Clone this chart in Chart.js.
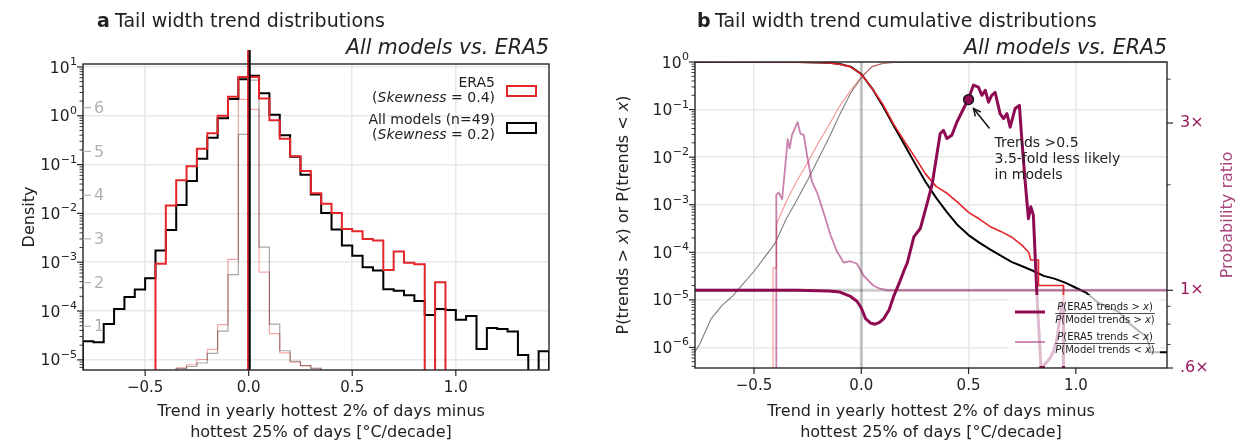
<!DOCTYPE html>
<html>
<head>
<meta charset="utf-8">
<script src="https://cdn.jsdelivr.net/npm/chart.js@4"></script>
<style>
  html, body { margin: 0; padding: 0; background: #fff; }
  #wrap { position: relative; width: 1239px; height: 443px; }
  canvas { position: absolute; top: 0; }
  #panelA { left: 0; }
  #panelB { left: 600px; }
</style>
</head>
<body>
<div id="wrap">
  <canvas id="panelA" width="600" height="443"></canvas>
  <canvas id="panelB" width="639" height="443"></canvas>
</div>
<script>
// ---------- panel a: trend histograms (bin left edges, width 0.05) ----------
const BIN = 0.05;
const binLefts = [-0.8, -0.75, -0.7, -0.65, -0.6, -0.55, -0.5, -0.45, -0.4, -0.35, -0.3, -0.25, -0.2, -0.15, -0.1, -0.05,
  0, 0.05, 0.1, 0.15, 0.2, 0.25, 0.3, 0.35, 0.4, 0.45, 0.5, 0.55, 0.6, 0.65, 0.7, 0.75, 0.8, 0.85, 0.9, 0.95,
  1.0, 1.05, 1.1, 1.15, 1.2, 1.25, 1.3, 1.35, 1.4];
const era5Density = [null, null, null, null, null, null, null, 9.3e-4, 0.0145, 0.048, 0.093, 0.21, 0.44, 1.0, 2.45, 6.2,
  6.2, 2.25, 0.81, 0.34, 0.148, 0.074, 0.026, 0.0158, 0.0102, 0.0048, 0.0043, 0.0030, 0.0028, 6.9e-4, 0.00166, 9.8e-4,
  9.1e-4, null, 3.9e-4, null, null, null, null, null, null, null, null, null, null];
const modelDensity = [2.4e-5, 2.3e-5, 5.4e-5, 1.1e-4, 1.95e-4, 2.75e-4, 4.7e-4, 1.74e-3, 4.6e-3, 0.0148, 0.046, 0.132, 0.355, 0.89, 2.2, 5.6,
  6.6, 2.9, 1.05, 0.40, 0.145, 0.062, 0.0245, 0.0102, 0.0047, 0.0022, 0.00135, 7.9e-4, 6.8e-4, 2.8e-4, 2.6e-4, 2.1e-4,
  1.6e-4, 8.3e-5, 1.1e-4, 1.05e-4, 6.6e-5, 7.9e-5, 1.66e-5, 4.5e-5, 4.3e-5, 3.8e-5, 1.26e-5, null, 1.5e-5];
// faint narrow histograms, read on the inner linear axis (1..6)
const era5Narrow = [null, null, null, null, null, null, null, null, null, 0.05, 0.12, 0.24, 0.47, 1.04, 2.53, 6.19,
  5.96, 2.24, 0.83, 0.39, 0.18, 0.10, 0.04, null, null, null, null, null, null, null, null, null,
  null, null, null, null, null, null, null, null, null, null, null, null, null];
const modelNarrow = [null, null, null, null, null, null, null, null, null, 0.03, 0.08, 0.16, 0.38, 0.89, 2.18, 5.39,
  6.63, 2.81, 1.05, 0.44, 0.20, 0.10, 0.04, null, null, null, null, null, null, null, null, null,
  null, null, null, null, null, null, null, null, null, null, null, null, null];
const narrowTicks = [1, 2, 3, 4, 5, 6];
const era5Mean = -0.003;
const modelMean = 0.005;
const xTicks = [-0.5, 0, 0.5, 1.0];

// ---------- panel b: exceedance / cumulative probabilities and their ratios ----------
const exceedX = [-0.775, -0.3, -0.2, -0.15, -0.1, -0.05, 0, 0.05, 0.1, 0.15, 0.2, 0.25, 0.3, 0.35, 0.4, 0.45, 0.5,
  0.55, 0.6, 0.65, 0.7, 0.75, 0.8, 0.85, 0.9, 0.95, 1.0, 1.05, 1.1, 1.15, 1.2, 1.25, 1.3, 1.33, 1.35, 1.425];
const modelExceed = [1.0, 0.995, 0.98, 0.96, 0.91, 0.8, 0.56, 0.28, 0.12, 0.047, 0.0186, 0.0074, 0.003, 0.00138, 6.9e-4,
  3.7e-4, 2.3e-4, 1.6e-4, 1.15e-4, 8.5e-5, 6.3e-5, 5.1e-5, 4.1e-5, 3.2e-5, 2.8e-5, 2.3e-5, 1.8e-5, 1.4e-5, 9e-6, 7e-6,
  5.6e-6, 3.2e-6, 2.1e-6, 1.7e-6, 7.9e-7, 7.9e-7];
const era5ExceedX = [-0.775, -0.3, -0.2, -0.15, -0.1, -0.05, 0, 0.05, 0.1, 0.15, 0.2, 0.25, 0.3, 0.35, 0.4, 0.45, 0.5,
  0.55, 0.6, 0.65, 0.7, 0.75, 0.78, 0.79, 0.825, 0.826, 0.942, 0.943];
const era5Exceed = [1.0, 0.995, 0.98, 0.955, 0.9, 0.79, 0.55, 0.28, 0.13, 0.05, 0.022, 0.01, 0.0044, 0.0024, 0.00174,
  0.00112, 6.9e-4, 5e-4, 3.5e-4, 2.75e-4, 2.1e-4, 1.4e-4, 1e-4, 6.9e-5, 6.9e-5, 2e-5, 2e-5, 0];
const belowX = [-0.775, -0.75, -0.7, -0.65, -0.6, -0.55, -0.5, -0.45, -0.4, -0.35, -0.3, -0.25, -0.2, -0.15, -0.1,
  -0.05, 0, 0.05, 0.1, 0.15, 0.2, 1.425];
const modelBelow = [8e-7, 1.26e-6, 4e-6, 7.6e-6, 1.2e-5, 2.2e-5, 4e-5, 7.9e-5, 1.6e-4, 5e-4, 1.26e-3, 3.3e-3, 9.3e-3,
  0.026, 0.079, 0.22, 0.47, 0.8, 0.93, 0.98, 0.995, 1.0];
const era5BelowX = [-0.411, -0.411, -0.395, -0.395, -0.35, -0.3, -0.25, -0.2, -0.15, -0.1, -0.05, 0, 0.05, 0.1, 0.15,
  0.2, 1.425];
const era5Below = [0, 4.7e-5, 4.7e-5, 4e-4, 1.15e-3, 3.2e-3, 7.6e-3, 0.02, 0.048, 0.12, 0.25, 0.48, 0.8, 0.94, 0.985,
  0.997, 1.0];
const ratioAboveX = [-0.775, -0.3, -0.15, -0.1, -0.05, -0.02, 0, 0.02, 0.045, 0.065, 0.085, 0.105, 0.13, 0.15, 0.18,
  0.2, 0.215, 0.245, 0.275, 0.29, 0.31, 0.33, 0.352, 0.368, 0.383, 0.399, 0.422, 0.446, 0.477, 0.5, 0.523, 0.546,
  0.562, 0.578, 0.593, 0.608, 0.624, 0.647, 0.663, 0.679, 0.694, 0.717, 0.737, 0.748, 0.764, 0.779, 0.79, 0.802,
  0.818, 0.841, 0.85, 0.88, 0.896, 0.911, 0.927, 0.935, 0.942, 0.943];
const ratioAbove = [1.0, 1.0, 0.995, 0.988, 0.96, 0.93, 0.89, 0.83, 0.805, 0.80, 0.81, 0.83, 0.88, 0.957, 1.06, 1.14,
  1.2, 1.42, 1.5, 1.62, 1.8, 2.0, 2.43, 2.8, 2.86, 2.71, 2.77, 3.02, 3.3, 3.52, 3.85, 3.8, 3.6, 3.72, 3.44, 3.6, 3.67,
  3.19, 3.09, 3.19, 2.92, 3.3, 3.37, 2.71, 2.04, 1.6, 1.73, 1.64, 0.99, 0.55, 0.61, 0.64, 0.67, 0.72, 0.84, 0.92,
  0.92, 0];
const ratioBelowX = [-0.397, -0.396, -0.385, -0.375, -0.369, -0.354, -0.343, -0.334, -0.323, -0.307, -0.297, -0.284,
  -0.268, -0.253, -0.23, -0.206, -0.176, -0.144, -0.113, -0.082, -0.051, -0.02, 0.011, 0.057, 0.088, 0.12, 1.425];
const ratioBelow = [0, 1.87, 1.9, 1.85, 1.82, 2.27, 2.7, 2.54, 2.77, 2.92, 3.02, 2.8, 2.77, 2.43, 2.04, 1.9, 1.67,
  1.44, 1.29, 1.2, 1.21, 1.19, 1.1, 1.03, 1.01, 1.0, 1.0];
const markerX = 0.5;
const markerRatio = 3.5;
const ratioLabelVals = [0.6, 1, 3];
const ratioLabelText = ['.6×', '1×', '3×'];

// ---------- styling ----------
const FONT = '"DejaVu Sans", sans-serif';
const INK = '#222';
const RED = '#e4262b';
const MAROON = '#8e0b52';
const MAUVE = 'rgba(165, 45, 115, 0.6)';
const GRID = '#e8e8e8';

function fontStr(size, style) {
  return (style ? style + ' ' : '') + size + 'px ' + FONT;
}

// draw a run of text pieces with different styles on one baseline
function rich(ctx, parts, x, y, size, align, color) {
  ctx.textBaseline = 'alphabetic';
  ctx.textAlign = 'left';
  ctx.fillStyle = color || INK;
  const ws = parts.map(([s, st]) => { ctx.font = fontStr(size, st); return ctx.measureText(s).width; });
  const total = ws.reduce((a, b) => a + b, 0);
  let cx = align === 'center' ? x - total / 2 : align === 'right' ? x - total : x;
  parts.forEach(([s, st], i) => { ctx.font = fontStr(size, st); ctx.fillText(s, cx, y); cx += ws[i]; });
  return total;
}

function rotatedLabel(ctx, parts, cx, cy, size, color) {
  ctx.save();
  ctx.translate(cx, cy);
  ctx.rotate(-Math.PI / 2);
  rich(ctx, parts, 0, size * 0.36, size, 'center', color);
  ctx.restore();
}

function isDecade(v) {
  const l = Math.log10(v);
  return Math.abs(l - Math.round(l)) < 1e-6;
}
function xLabel(v) {
  if (Math.abs(v) < 1e-9) return '0.0';
  return (v < 0 ? '\u2212' : '') + Math.abs(v).toFixed(1);
}
function logTicks(min, max) {
  const out = [];
  for (let e = Math.floor(Math.log10(min)); e <= Math.ceil(Math.log10(max)); e++) {
    for (let m = 1; m <= 9; m++) {
      const v = m * Math.pow(10, e);
      if (v >= min * 0.999999 && v <= max * 1.000001) out.push({ value: v });
    }
  }
  return out;
}

// 10^n labels with a real raised exponent, right-aligned at rightX
function drawPowLabels(ctx, scale, rightX) {
  ctx.fillStyle = INK;
  ctx.textAlign = 'left';
  ctx.textBaseline = 'alphabetic';
  scale.ticks.forEach(t => {
    if (!isDecade(t.value)) return;
    const e = Math.round(Math.log10(t.value));
    const py = scale.getPixelForValue(t.value);
    const expStr = e < 0 ? '\u2212' + Math.abs(e) : String(e);
    ctx.font = fontStr(11);
    const we = ctx.measureText(expStr).width;
    ctx.font = fontStr(15.5);
    const wb = ctx.measureText('10').width;
    const x0 = rightX - we - wb - 0.5;
    ctx.fillText('10', x0, py + 5.6);
    ctx.font = fontStr(11);
    ctx.fillText(expStr, x0 + wb + 0.5, py - 2);
  });
}

// histogram outline from bin left edges (empty bins drop to the floor)
function stepPoints(lefts, vals, width, floor) {
  const first = vals.findIndex(v => v != null);
  let last = vals.length - 1;
  while (last > first && vals[last] == null) last--;
  const pts = [{ x: lefts[first], y: floor }];
  for (let i = first; i <= last; i++) pts.push({ x: lefts[i], y: vals[i] == null ? floor : vals[i] });
  pts.push({ x: lefts[last] + width, y: floor });
  return pts;
}
function curve(xs, ys, floor) {
  return xs.map((x, i) => ({ x, y: Math.max(ys[i], floor) }));
}

function drawFrame(ctx, a) {
  ctx.strokeStyle = '#262626';
  ctx.lineWidth = 1.4;
  ctx.strokeRect(a.left, a.top, a.right - a.left, a.bottom - a.top);
}
function drawTickMarks(ctx, scale, side, isMajor) {
  ctx.strokeStyle = '#262626';
  scale.ticks.forEach(t => {
    const major = isMajor(t.value);
    const len = major ? 6 : 3.5;
    const p = scale.getPixelForValue(t.value);
    ctx.lineWidth = major ? 1.2 : 0.9;
    ctx.beginPath();
    if (side === 'left') { ctx.moveTo(scale.right, p); ctx.lineTo(scale.right - len, p); }
    else if (side === 'right') { ctx.moveTo(scale.left, p); ctx.lineTo(scale.left + len, p); }
    else { ctx.moveTo(p, scale.top); ctx.lineTo(p, scale.top + len); }
    ctx.stroke();
  });
}

const tickFont = { family: FONT, size: 15 };
const xScaleBase = (min, max, height) => ({
  type: 'linear', min, max,
  afterBuildTicks: s => { s.ticks = xTicks.map(v => ({ value: v })); },
  afterFit: s => { s.height = height; },
  grid: { color: GRID, lineWidth: 1.5, drawTicks: false },
  border: { display: false },
  ticks: { font: tickFont, color: INK, padding: 9, autoSkip: false, maxRotation: 0, callback: v => xLabel(v) }
});
const logScaleBase = (min, max, width) => ({
  type: 'logarithmic', position: 'left', min, max,
  afterBuildTicks: s => { s.ticks = logTicks(min, max); },
  afterFit: s => { s.width = width; },
  grid: { color: c => (c.tick && isDecade(c.tick.value)) ? GRID : 'rgba(0,0,0,0)', lineWidth: 1.5, drawTicks: false },
  border: { display: false },
  ticks: { font: tickFont, autoSkip: false, callback: () => '' }
});

// ---------- panel a ----------
const panelAExtras = {
  id: 'panelAExtras',
  afterDatasetsDraw(chart) {
    const { ctx, chartArea: a, scales: { x, y, yn } } = chart;
    ctx.save();
    // mean lines, poking slightly above the frame like the original
    [[era5Mean, RED], [modelMean, '#000']].forEach(([m, c]) => {
      const px = x.getPixelForValue(m);
      ctx.strokeStyle = c;
      ctx.lineWidth = 2;
      ctx.beginPath(); ctx.moveTo(px, a.top - 14); ctx.lineTo(px, a.bottom); ctx.stroke();
    });
    drawFrame(ctx, a);
    drawTickMarks(ctx, y, 'left', isDecade);
    drawTickMarks(ctx, x, 'bottom', () => true);
    drawPowLabels(ctx, y, a.left - 6);

    // inner linear axis for the faint histograms
    ctx.strokeStyle = '#b5b5b5';
    ctx.fillStyle = '#b0b0b0';
    ctx.lineWidth = 1.2;
    ctx.font = fontStr(16);
    ctx.textAlign = 'left';
    ctx.textBaseline = 'middle';
    narrowTicks.forEach(v => {
      const py = yn.getPixelForValue(v);
      ctx.beginPath(); ctx.moveTo(a.left, py); ctx.lineTo(a.left + 8, py); ctx.stroke();
      ctx.fillText(String(v), a.left + 11, py + 1);
    });

    // legend (text first, box after)
    const tr = a.right - 54;
    rich(ctx, [['ERA5']], tr, a.top + 23, 14, 'right');
    rich(ctx, [['('], ['Skewness', 'italic'], [' = 0.4)']], tr, a.top + 38, 14, 'right');
    rich(ctx, [['All models (n=49)']], tr, a.top + 60, 14, 'right');
    rich(ctx, [['('], ['Skewness', 'italic'], [' = 0.2)']], tr, a.top + 75, 14, 'right');
    ctx.lineWidth = 2;
    ctx.strokeStyle = RED;
    ctx.strokeRect(a.right - 42, a.top + 22, 29, 10);
    ctx.strokeStyle = '#000';
    ctx.strokeRect(a.right - 42, a.top + 59, 29, 10);
    ctx.restore();
  },
  afterDraw(chart) {
    const { ctx, chartArea: a } = chart;
    ctx.save();
    rich(ctx, [['a', 'bold']], 97, 27, 19);
    rich(ctx, [['Tail width trend distributions']], 115, 27, 19);
    rich(ctx, [['All models vs. ERA5', 'italic']], a.right, 54, 20.5, 'right');
    const cx = (a.left + a.right) / 2 + 5;
    rich(ctx, [['Trend in yearly hottest 2% of days minus']], cx, 416, 16, 'center');
    rich(ctx, [['hottest 25% of days [°C/decade]']], cx, 437, 16, 'center');
    rotatedLabel(ctx, [['Density']], 28, (a.top + a.bottom) / 2, 16);
    ctx.restore();
  }
};

new Chart(document.getElementById('panelA'), {
  type: 'line',
  data: {
    datasets: [
      { label: 'ERA5 (inner)', data: stepPoints(binLefts, era5Narrow, BIN, 0), yAxisID: 'yn',
        borderColor: 'rgba(238, 80, 80, 0.5)', borderWidth: 1.2, stepped: true, order: 4 },
      { label: 'All models (inner)', data: stepPoints(binLefts, modelNarrow, BIN, 0), yAxisID: 'yn',
        borderColor: 'rgba(0, 0, 0, 0.35)', borderWidth: 1.2, stepped: true, order: 3 },
      { label: 'All models (n=49)', data: stepPoints(binLefts, modelDensity, BIN, 1e-9), yAxisID: 'y',
        borderColor: '#000', borderWidth: 2, stepped: true, order: 2 },
      { label: 'ERA5', data: stepPoints(binLefts, era5Density, BIN, 1e-9), yAxisID: 'y',
        borderColor: RED, borderWidth: 2, stepped: true, order: 1 }
    ]
  },
  options: {
    responsive: false,
    devicePixelRatio: 1,
    animation: false,
    events: [],
    layout: { padding: { left: 0, right: 51, top: 64, bottom: 0 } },
    elements: { point: { radius: 0 }, line: { tension: 0, fill: false } },
    plugins: { legend: { display: false }, tooltip: { enabled: false } },
    scales: {
      x: xScaleBase(-0.8, 1.45, 73),
      y: logScaleBase(6.2e-6, 11.5, 83),
      yn: { type: 'linear', display: false, min: 0, max: 7 }
    }
  },
  plugins: [panelAExtras]
});

// ---------- panel b ----------
const panelBExtras = {
  id: 'panelBExtras',
  beforeDatasetsDraw(chart) {
    const { ctx, chartArea: a, scales: { x, y2 } } = chart;
    ctx.save();
    ctx.strokeStyle = 'rgba(0, 0, 0, 0.2)';
    ctx.lineWidth = 3;
    const px = x.getPixelForValue(0);
    ctx.beginPath(); ctx.moveTo(px, a.top); ctx.lineTo(px, a.bottom); ctx.stroke();
    const py = y2.getPixelForValue(1);
    ctx.beginPath(); ctx.moveTo(a.left, py); ctx.lineTo(a.right, py); ctx.stroke();
    ctx.restore();
  },
  afterDatasetsDraw(chart) {
    const { ctx, chartArea: a, scales: { x, y, y2 } } = chart;
    ctx.save();
    drawFrame(ctx, a);
    drawTickMarks(ctx, y, 'left', isDecade);
    drawTickMarks(ctx, y2, 'right', v => ratioLabelVals.some(r => Math.abs(r - v) < 1e-9));
    drawTickMarks(ctx, x, 'bottom', () => true);
    drawPowLabels(ctx, y, a.left - 6);

    // legend box (semi-transparent, lines behind show through faintly)
    const lx = a.right - 159, ly = a.bottom - 73;
    ctx.fillStyle = 'rgba(255, 255, 255, 0.72)';
    ctx.beginPath();
    ctx.roundRect(lx, ly, 152, 71, 3);
    ctx.fill();
    ctx.lineCap = 'butt';
    ctx.strokeStyle = MAROON; ctx.lineWidth = 3;
    ctx.beginPath(); ctx.moveTo(lx + 7, ly + 17); ctx.lineTo(lx + 37, ly + 17); ctx.stroke();
    ctx.strokeStyle = MAUVE; ctx.lineWidth = 1.8;
    ctx.beginPath(); ctx.moveTo(lx + 7, ly + 47); ctx.lineTo(lx + 37, ly + 47); ctx.stroke();
    const fx = lx + 97;
    [['>', ly + 15, ly + 18.5, ly + 28], ['<', ly + 45, ly + 48.5, ly + 58]].forEach(([op, nb, bar, db]) => {
      const w1 = rich(ctx, [['P', 'italic'], ['(ERA5 trends ' + op + ' '], ['x', 'italic'], [')']], fx, nb, 10, 'center');
      const w2 = rich(ctx, [['P', 'italic'], ['(Model trends ' + op + ' '], ['x', 'italic'], [')']], fx, db, 10, 'center');
      const w = Math.max(w1, w2);
      ctx.strokeStyle = INK; ctx.lineWidth = 0.8;
      ctx.beginPath(); ctx.moveTo(fx - w / 2, bar); ctx.lineTo(fx + w / 2, bar); ctx.stroke();
    });

    // annotation: marker, arrow, text
    const mx = x.getPixelForValue(markerX), my = y2.getPixelForValue(markerRatio);
    const tx = mx + 5, ty = my + 9, sx = mx + 21, sy = my + 29;
    ctx.strokeStyle = '#111'; ctx.lineWidth = 1.5;
    ctx.beginPath(); ctx.moveTo(sx, sy); ctx.lineTo(tx, ty); ctx.stroke();
    const ang = Math.atan2(ty - sy, tx - sx);
    ctx.beginPath();
    ctx.moveTo(tx - 8 * Math.cos(ang - 0.45), ty - 8 * Math.sin(ang - 0.45));
    ctx.lineTo(tx, ty);
    ctx.lineTo(tx - 8 * Math.cos(ang + 0.45), ty - 8 * Math.sin(ang + 0.45));
    ctx.stroke();
    ctx.beginPath(); ctx.arc(mx, my, 5, 0, 2 * Math.PI);
    ctx.fillStyle = MAROON; ctx.fill();
    ctx.strokeStyle = '#111'; ctx.lineWidth = 1.3; ctx.stroke();
    rich(ctx, [['Trends >0.5']], mx + 26, my + 47, 14);
    rich(ctx, [['3.5-fold less likely']], mx + 26, my + 63, 14);
    rich(ctx, [['in models']], mx + 26, my + 79, 14);
    ctx.restore();
  },
  afterDraw(chart) {
    const { ctx, chartArea: a } = chart;
    ctx.save();
    rich(ctx, [['b', 'bold']], 97, 27, 19);
    rich(ctx, [['Tail width trend cumulative distributions']], 115, 27, 19);
    rich(ctx, [['All models vs. ERA5', 'italic']], a.right, 54, 20.5, 'right');
    const cx = (a.left + a.right) / 2;
    rich(ctx, [['Trend in yearly hottest 2% of days minus']], cx, 416, 16, 'center');
    rich(ctx, [['hottest 25% of days [°C/decade]']], cx, 437, 16, 'center');
    rotatedLabel(ctx, [['P(trends > '], ['x', 'italic'], [') or P(trends < '], ['x', 'italic'], [')']],
      22, (a.top + a.bottom) / 2, 16);
    rotatedLabel(ctx, [['Probability ratio']], a.right + 59, (a.top + a.bottom) / 2, 16, '#a8447c');
    ctx.restore();
  }
};

const FLOOR = 1e-9;
new Chart(document.getElementById('panelB'), {
  type: 'line',
  data: {
    datasets: [
      { label: 'P(Model trends < x)', data: curve(belowX, modelBelow, FLOOR), yAxisID: 'y',
        borderColor: 'rgba(0, 0, 0, 0.5)', borderWidth: 1.1, order: 8 },
      { label: 'P(ERA5 trends < x)', data: curve(era5BelowX, era5Below, FLOOR), yAxisID: 'y',
        borderColor: 'rgba(240, 90, 90, 0.65)', borderWidth: 1.1, order: 7 },
      { label: 'P(Model trends > x)', data: curve(exceedX, modelExceed, FLOOR), yAxisID: 'y',
        borderColor: '#000', borderWidth: 2, order: 6 },
      { label: 'P(ERA5 trends > x)', data: curve(era5ExceedX, era5Exceed, FLOOR), yAxisID: 'y',
        borderColor: RED, borderWidth: 1.6, order: 5 },
      { label: 'ratio below', data: curve(ratioBelowX, ratioBelow, 0.1), yAxisID: 'y2',
        borderColor: MAUVE, borderWidth: 1.8, order: 3 },
      { label: 'ratio above', data: curve(ratioAboveX, ratioAbove, 0.1), yAxisID: 'y2',
        borderColor: MAROON, borderWidth: 3, order: 2 }
    ]
  },
  options: {
    responsive: false,
    devicePixelRatio: 1,
    animation: false,
    events: [],
    layout: { padding: { left: 0, right: 0, top: 62, bottom: 0 } },
    elements: { point: { radius: 0 }, line: { tension: 0, fill: false, borderJoinStyle: 'round' } },
    plugins: { legend: { display: false }, tooltip: { enabled: false } },
    scales: {
      x: xScaleBase(-0.775, 1.425, 75),
      y: logScaleBase(3.7e-7, 1, 95),
      y2: {
        type: 'logarithmic', position: 'right', min: 0.6, max: 4.48,
        afterBuildTicks: s => { s.ticks = logTicks(0.6, 4.48); },
        afterFit: s => { s.width = 72; },
        grid: { display: false, drawTicks: false },
        border: { display: false },
        ticks: {
          font: { family: FONT, size: 16 }, color: '#981a5c', padding: 13, autoSkip: false,
          callback: v => {
            const i = ratioLabelVals.findIndex(r => Math.abs(r - v) < 1e-9);
            return i < 0 ? '' : ratioLabelText[i];
          }
        }
      }
    }
  },
  plugins: [panelBExtras]
});
</script>
</body>
</html>
